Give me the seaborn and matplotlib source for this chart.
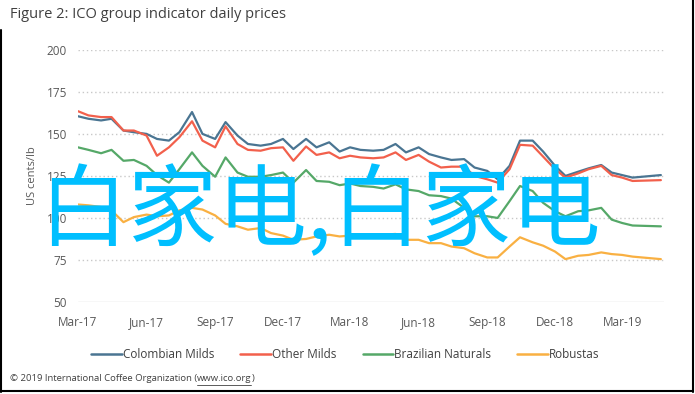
import pandas as pd
import seaborn as sns
import matplotlib.pyplot as plt
import matplotlib.dates as mdates
from matplotlib.lines import Line2D

# semi-monthly readings, Mar 2017 - Apr 2019 (US cents/lb)
dates = list(pd.date_range("2017-03-01", periods=50, freq="SMS")) + [pd.Timestamp("2019-04-22")]

colombian = [160.5, 159, 158, 159, 152, 151, 150, 147, 146, 151,
             163, 150, 147, 157, 149, 144, 143, 144, 147, 141,
             147, 142, 145, 139.5, 142, 140.5, 140, 140.5, 144, 139,
             142, 138, 136, 134.5, 135, 130, 128, 123, 131, 146,
             146, 139.5, 131, 125, 127.5, 129.5, 131.5, 127, 125.5, 124,
             125.5]
other_milds = [163.5, 161, 160, 160, 152, 152, 149, 137, 142, 148,
               157.5, 146, 142, 154.5, 144, 140.5, 140, 141.5, 142, 134,
               142.5, 137.5, 139, 135.5, 137, 136, 135.5, 136, 139, 134.5,
               137.5, 133.5, 130, 130.5, 130.5, 125, 123, 121, 129, 143.5,
               143, 136.5, 129, 124, 126.5, 129, 131, 125.5, 124, 122,
               122.5]
brazilian = [142, 140.5, 138.5, 140.5, 134, 134.5, 131, 125.5, 121, 129,
             139, 131, 124.5, 136, 127, 124.5, 124.5, 125.5, 127, 121,
             128.5, 122, 121.5, 119.5, 120.5, 119, 118.5, 117.5, 120, 117,
             116, 113.5, 113, 111.5, 106, 101, 101, 100, 110, 119,
             116, 109, 104, 101, 104, 104.5, 106, 99, 97, 95.5,
             95]
robustas = [108, 107.5, 106.5, 104.5, 97.5, 100.5, 102, 101, 101.5, 104.5,
            106, 105, 101.5, 96.5, 95, 93, 94, 91, 89.5, 87,
            87.5, 89, 90, 89, 89.5, 89, 90, 90, 90.5, 87,
            87, 85, 85, 83, 82, 79, 76.5, 76.5, 83, 88.5,
            85.5, 83.5, 80, 75.5, 77.5, 78, 79.5, 78.5, 78, 77,
            75.5]

series_names = ["Colombian Milds", "Other Milds", "Brazilian Naturals", "Robustas"]
colors = ["#4A7592", "#F2604C", "#55A868", "#F9B042"]
tick_dates = pd.date_range("2017-03-01", "2019-03-01", freq="3MS")
y_ticks = [50, 75, 100, 125, 150, 175, 200]

df = pd.DataFrame({"date": dates, "Colombian Milds": colombian, "Other Milds": other_milds,
                   "Brazilian Naturals": brazilian, "Robustas": robustas})
long = df.melt(id_vars="date", var_name="group", value_name="price")

sns.set_style("white")
plt.rcParams["font.family"] = ["Open Sans", "DejaVu Sans"]

fig = plt.figure(figsize=(6.95, 3.94), dpi=100)
ax = fig.add_axes([0.1122, 0.2335, 0.843, 0.640])

sns.lineplot(data=long, x="date", y="price", hue="group", hue_order=series_names,
             palette=colors, linewidth=1.6, ax=ax, legend=False)

ax.set_xlim(pd.Timestamp("2017-03-01"), pd.Timestamp("2019-04-26"))
ax.set_ylim(50, 200)
ax.set_yticks(y_ticks)
ax.set_xticks(tick_dates)
ax.xaxis.set_major_formatter(mdates.DateFormatter("%b-%y"))
ax.tick_params(axis="both", length=0, labelsize=8.5, labelcolor="#595959")
ax.tick_params(axis="x", pad=10)
ax.tick_params(axis="y", pad=8)
for v in y_ticks[1:]:
    ax.axhline(v, color="#c8c8c8", linewidth=1.0, linestyle=(0, (1, 2)), zorder=0)
ax.axhline(50, color="#d9d9d9", linewidth=1.0, zorder=0)
for s in ax.spines.values():
    s.set_visible(False)
ax.set_xlabel("")
ax.set_ylabel("US cents/lb", fontsize=8, color="#595959", labelpad=6)

handles = [Line2D([0], [0], color=c, linewidth=1.8) for c in colors]
fig.legend(handles, series_names, loc="center", bbox_to_anchor=(0.497, 0.099), ncol=4,
           frameon=False, fontsize=8.5, handlelength=2.6, handletextpad=0.1, columnspacing=2.2,
           labelcolor="#404040")

fig.text(0.014, 0.962, "Figure 2: ICO group indicator daily prices", fontsize=10.5,
         color="#404040", va="center", ha="left")

# footer with underlined link
fig.canvas.draw()
r = fig.canvas.get_renderer()
t1 = fig.text(0.014, 0.032, "\u00a9 2019 International Coffee Organization (", fontsize=6.8,
              color="#404040", va="baseline", ha="left")
bb1 = t1.get_window_extent(r)
x2 = bb1.x1 / fig.bbox.width
t2 = fig.text(x2, 0.032, "www.ico.org", fontsize=6.8, color="#404040", va="baseline", ha="left")
bb2 = t2.get_window_extent(r)
x3 = bb2.x1 / fig.bbox.width
fig.text(x3, 0.032, ")", fontsize=6.8, color="#404040", va="baseline", ha="left")
fig.add_artist(Line2D([x2, x3], [0.024, 0.024], color="#404040", linewidth=0.6))

# overlay text
fig.text(0.055, 0.458, "白家电,白家电", fontsize=64.5, color="#00BFFF", va="center", ha="left",
         family=["Noto Sans CJK SC", "DejaVu Sans"], zorder=10)

# screenshot frame
fig.add_artist(Line2D([0.002, 0.002], [0.005, 0.925], color="black", linewidth=1.5))
fig.add_artist(Line2D([0.997, 0.997], [0.005, 1.0], color="black", linewidth=1.5))
fig.add_artist(Line2D([0.002, 0.997], [0.007, 0.007], color="black", linewidth=1.5))

fig.savefig("out.png", dpi=100)
